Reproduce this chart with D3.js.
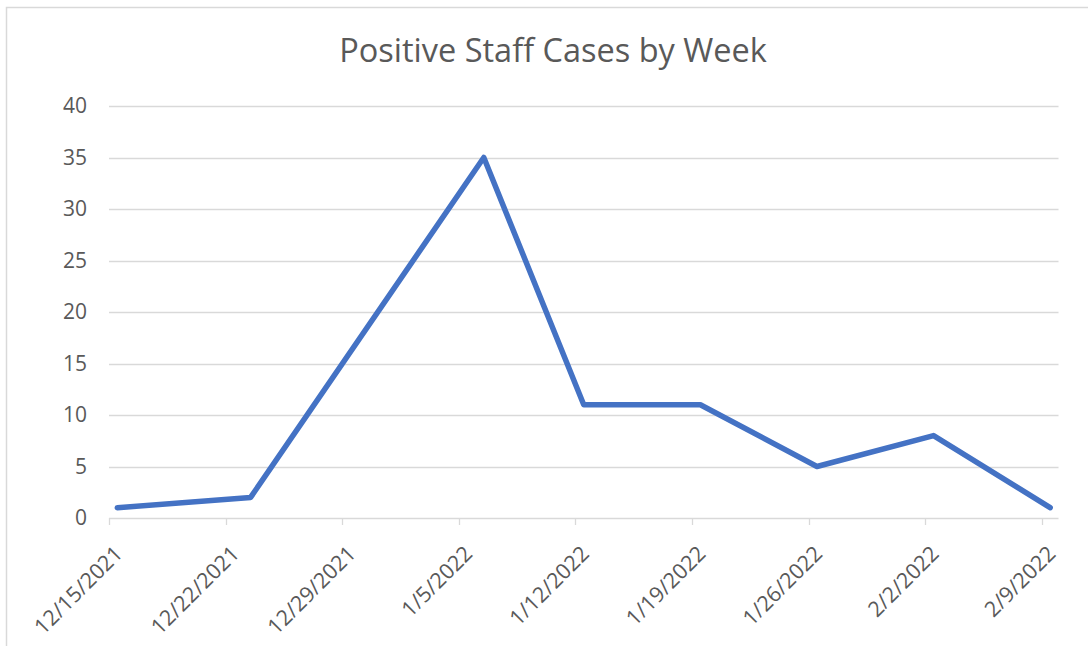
<!DOCTYPE html>
<html>
<head>
  <meta http-equiv="Content-Type" content="text/html; charset=utf-8"/>
  <title>Positive Staff Cases by Week</title>
  <script src="https://d3js.org/d3.v7.min.js"></script>
  <style>
    body { margin: 0; background: #fff; }
    text { font-family: "Open Sans", sans-serif; fill: #595959; }
  </style>
</head>
<body>
<svg></svg>
<script type="text/javascript">

// data
const dates = ["2021-12-15", "2021-12-23", "2022-01-06", "2022-01-12",
               "2022-01-19", "2022-01-26", "2022-02-02", "2022-02-09"];
const cases = [1, 2, 35, 11, 11, 5, 8, 1];
const tickDates = ["2021-12-15", "2021-12-22", "2021-12-29", "2022-01-05",
                   "2022-01-12", "2022-01-19", "2022-01-26", "2022-02-02", "2022-02-09"];
const yTicks = [0, 5, 10, 15, 20, 25, 30, 35, 40];

const width = 1088, height = 646;
const parse = d3.timeParse("%Y-%m-%d");
const fmt = d3.timeFormat("%-m/%-d/%Y");

const svg = d3.select("svg")
    .attr("width", width)
    .attr("height", height);

// chart border (cropped on right and bottom)
svg.append("rect")
    .attr("x", 6.5)
    .attr("y", 7.5)
    .attr("width", 1200)
    .attr("height", 800)
    .style("fill", "none")
    .style("stroke", "#d9d9d9")
    .style("stroke-width", 1.5);

const x = d3.scaleTime()
    .domain([parse("2021-12-15"), parse("2022-02-10")])
    .range([109, 1058.5]);

const y = d3.scaleLinear()
    .domain([0, 40])
    .range([518, 106]);

// gridlines
svg.selectAll(".grid")
    .data(yTicks)
    .join("line")
      .attr("class", "grid")
      .attr("x1", x.range()[0])
      .attr("x2", x.range()[1])
      .attr("y1", d => Math.round(y(d)) + 0.5)
      .attr("y2", d => Math.round(y(d)) + 0.5)
      .style("stroke", "#d9d9d9")
      .style("stroke-width", 1.3);

// y labels
svg.selectAll(".ylab")
    .data(yTicks)
    .join("text")
      .attr("class", "ylab")
      .attr("x", 87)
      .attr("y", d => y(d))
      .attr("dy", "0.35em")
      .attr("text-anchor", "end")
      .style("font-size", "21px")
      .text(d => d);

// x ticks
svg.selectAll(".xtick")
    .data(tickDates)
    .join("line")
      .attr("class", "xtick")
      .attr("x1", d => Math.round(x(parse(d))) + 0.5)
      .attr("x2", d => Math.round(x(parse(d))) + 0.5)
      .attr("y1", 518)
      .attr("y2", 525)
      .style("stroke", "#d9d9d9")
      .style("stroke-width", 1.3);

// x labels, rotated
svg.selectAll(".xlab")
    .data(tickDates)
    .join("text")
      .attr("class", "xlab")
      .attr("text-anchor", "end")
      .attr("transform", d => {
        const px = x(parse(d)) + 15, py = 555;
        return `translate(${px},${py}) rotate(-45)`;
      })
      .style("font-size", "21.5px")
      .text(d => fmt(parse(d)));

// line, points sit at the middle of their day
const points = dates.map((d, i) => ({ t: d3.timeHour.offset(parse(d), 12), v: cases[i] }));

const line = d3.line()
    .x(d => x(d.t))
    .y(d => y(d.v));

svg.append("path")
    .datum(points)
    .attr("d", line)
    .style("fill", "none")
    .style("stroke", "#4472c4")
    .style("stroke-width", 5.5)
    .style("stroke-linejoin", "round")
    .style("stroke-linecap", "round");

// title
svg.append("text")
    .attr("x", 553)
    .attr("y", 62)
    .attr("text-anchor", "middle")
    .style("font-size", "32.5px")
    .text("Positive Staff Cases by Week");

</script>
</body>
</html>
